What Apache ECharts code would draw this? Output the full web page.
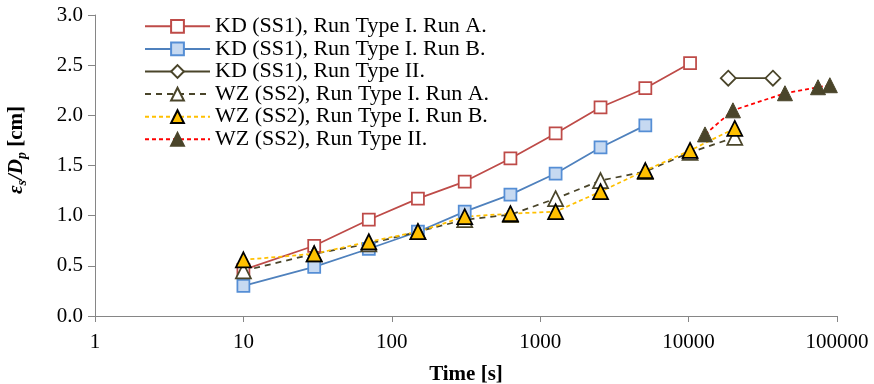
<!DOCTYPE html>
<html>
<head>
<meta charset="utf-8">
<script src="https://cdn.jsdelivr.net/npm/echarts@6/dist/echarts.min.js"></script>
<style>
  html, body { margin: 0; padding: 0; background: #fff; }
  #chart-panel { width: 874px; height: 384px; }
</style>
</head>
<body>
<div id="chart-panel"></div>
<script>
var chart = echarts.init(document.getElementById('chart-panel'));

// times [s]
var timesKD = [10, 30, 70, 150, 310, 630, 1270, 2550, 5110, 10230];
var timesKD2 = [18500, 37000];
var timesWZ = [10, 30, 70, 150, 310, 630, 1270, 2550, 5110, 10230, 20470];
var timesWZ2 = [12900, 19900, 44600, 74500, 89500];

// eps_s / D_p [cm]
var kdRunA = [0.46, 0.70, 0.96, 1.17, 1.34, 1.57, 1.82, 2.08, 2.27, 2.52];
var kdRunB = [0.30, 0.49, 0.67, 0.84, 1.04, 1.21, 1.42, 1.68, 1.90];
var kdType2 = [2.37, 2.37];
var wzRunA = [0.45, 0.62, 0.72, 0.84, 0.96, 1.01, 1.17, 1.35, 1.44, 1.63, 1.78];
var wzRunB = [0.56, 0.62, 0.74, 0.84, 0.99, 1.02, 1.04, 1.24, 1.45, 1.65, 1.87];
var wzType2 = [1.81, 2.05, 2.22, 2.28, 2.30];

var names = [
    'KD (SS1), Run Type I. Run A.',
    'KD (SS1), Run Type I. Run B.',
    'KD (SS1), Run Type II.',
    'WZ (SS2), Run Type I. Run A.',
    'WZ (SS2), Run Type I. Run B.',
    'WZ (SS2), Run Type II.'
];

function pairs(t, v) {
    var d = [];
    for (var i = 0; i < v.length; i++) {
        d.push([t[i], v[i]]);
    }
    return d;
}

var font = "'Liberation Serif', 'Times New Roman', serif";
var axisGray = '#868686';

var option = {
    animation: false,
    backgroundColor: '#fff',
    grid: { left: 95, right: 37, top: 15, bottom: 68, containLabel: false, outerBoundsMode: 'none' },
    legend: {
        orient: 'vertical',
        left: 144,
        top: 15,
        padding: 0,
        itemWidth: 65,
        itemHeight: 16,
        itemGap: 0,
        textStyle: { fontFamily: font, fontSize: 22, color: '#000', lineHeight: 22.6 },
        data: names
    },
    xAxis: {
        type: 'log',
        logBase: 10,
        min: 1,
        max: 100000,
        splitNumber: 5,
        name: 'Time [s]',
        nameLocation: 'middle',
        nameGap: 48,
        nameTextStyle: { fontFamily: font, fontSize: 21, fontWeight: 'bold', color: '#000' },
        axisLine: { lineStyle: { color: axisGray, width: 1 } },
        axisTick: { show: true, length: 6, lineStyle: { color: axisGray } },
        minorTick: { show: false },
        splitLine: { show: false },
        axisLabel: {
            margin: 16,
            fontFamily: font, fontSize: 21, color: '#000',
            formatter: function (v) { return String(Math.round(v)); }
        }
    },
    yAxis: {
        type: 'value',
        min: 0,
        max: 3,
        interval: 0.5,
        name: '{i|ε}{is|s}{i|/D}{is|p}{b| [cm]}',
        nameLocation: 'middle',
        nameRotate: 90,
        nameGap: 66,
        nameTextStyle: {
            padding: [0, 0, 0, 31],
            rich: {
                i: { fontFamily: font, fontSize: 21, fontWeight: 'bold', fontStyle: 'italic', color: '#000' },
                is: { fontFamily: font, fontSize: 14, fontWeight: 'bold', fontStyle: 'italic', color: '#000', padding: [10, 0, 0, 0] },
                b: { fontFamily: font, fontSize: 21, fontWeight: 'bold', color: '#000' }
            }
        },
        axisLine: { show: true, lineStyle: { color: axisGray, width: 1 } },
        axisTick: { show: true, length: 7, lineStyle: { color: axisGray } },
        splitLine: { show: false },
        axisLabel: {
            margin: 12,
            fontFamily: font, fontSize: 21, color: '#000',
            formatter: function (v) { return v.toFixed(1); }
        }
    },
    series: [
        {
            name: names[0], type: 'line',
            data: pairs(timesKD, kdRunA),
            symbol: 'rect', symbolSize: 12,
            lineStyle: { color: '#BE4B48', width: 1.75 },
            itemStyle: { color: '#fff', borderColor: '#BE4B48', borderWidth: 1.75 }
        },
        {
            name: names[1], type: 'line',
            data: pairs(timesKD, kdRunB),
            symbol: 'rect', symbolSize: 12,
            lineStyle: { color: '#4F81BD', width: 1.75 },
            itemStyle: { color: '#C6D9F1', borderColor: '#558ED5', borderWidth: 1.75 }
        },
        {
            name: names[2], type: 'line',
            data: pairs(timesKD2, kdType2),
            symbol: 'diamond', symbolSize: 15,
            lineStyle: { color: '#4A452A', width: 1.75 },
            itemStyle: { color: '#fff', borderColor: '#4A452A', borderWidth: 1.75 }
        },
        {
            name: names[3], type: 'line',
            data: pairs(timesWZ, wzRunA),
            symbol: 'triangle', symbolSize: 15,
            lineStyle: { color: '#4A452A', width: 1.75, type: [6, 5] },
            itemStyle: { color: '#fff', borderColor: '#4A452A', borderWidth: 1.75 }
        },
        {
            name: names[4], type: 'line',
            data: pairs(timesWZ, wzRunB),
            symbol: 'triangle', symbolSize: 15,
            lineStyle: { color: '#FFC000', width: 1.75, type: [4, 3] },
            itemStyle: { color: '#FFC000', borderColor: '#000', borderWidth: 1.75 }
        },
        {
            name: names[5], type: 'line',
            data: pairs(timesWZ2, wzType2),
            symbol: 'triangle', symbolSize: 15,
            lineStyle: { color: '#FF0000', width: 1.75, type: [4, 3] },
            itemStyle: { color: '#4A452A', borderColor: '#4A452A', borderWidth: 1 }
        }
    ]
};

chart.setOption(option);
</script>
</body>
</html>
